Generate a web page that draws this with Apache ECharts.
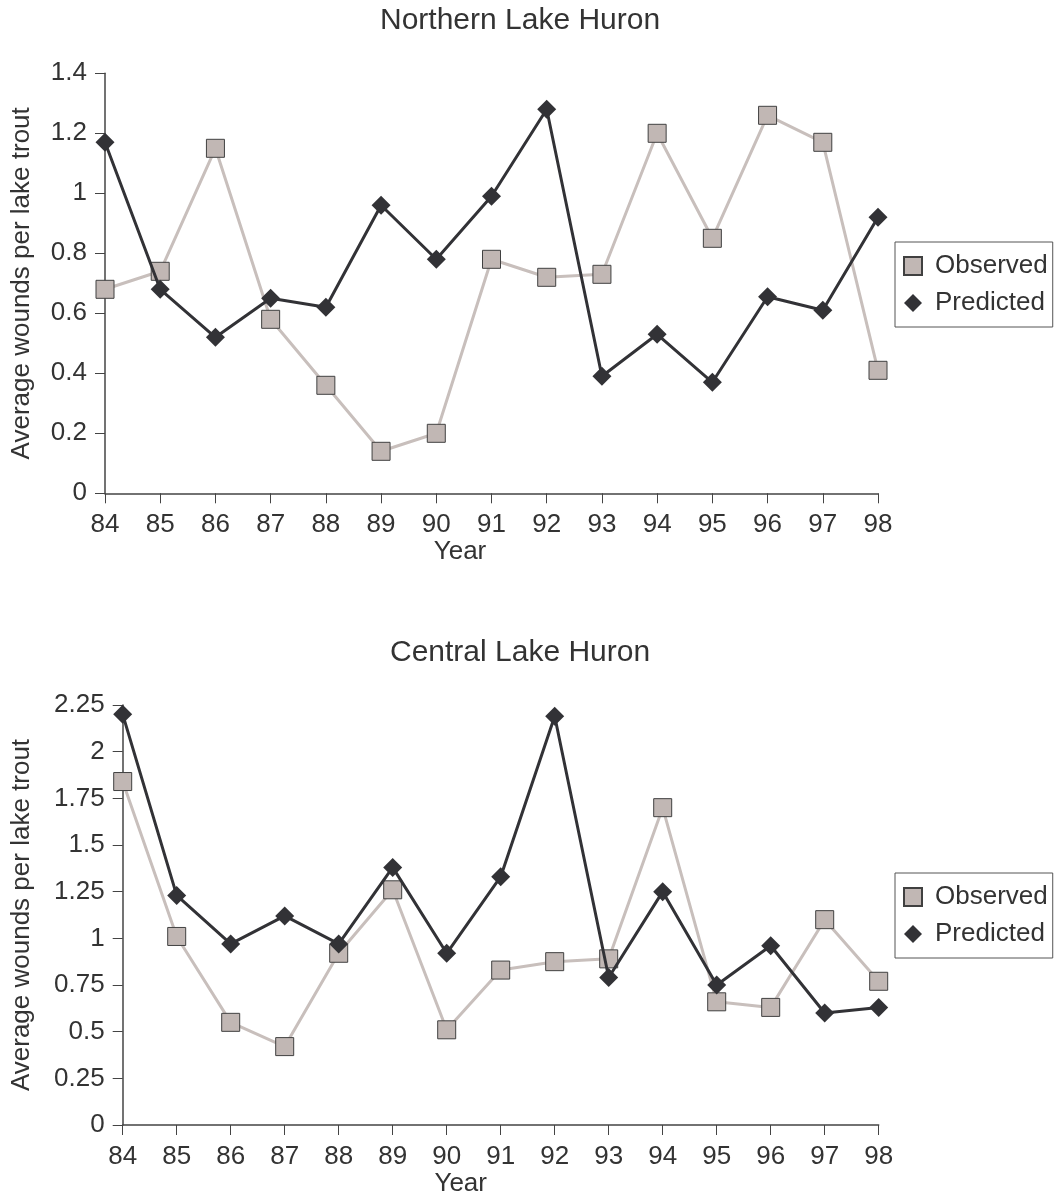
<!DOCTYPE html>
<html>
<head>
<meta charset="utf-8">
<script src="https://cdn.jsdelivr.net/npm/echarts@6/dist/echarts.min.js"></script>
<style>
html,body{margin:0;padding:0;background:#fff;}
#chart{width:1056px;height:1201px;}
</style>
</head>
<body>
<div id="chart"></div>
<script>
var years = ['84','85','86','87','88','89','90','91','92','93','94','95','96','97','98'];
var northObserved = [0.68,0.74,1.15,0.58,0.36,0.14,0.20,0.78,0.72,0.73,1.20,0.85,1.26,1.17,0.41];
var northPredicted = [1.17,0.68,0.52,0.65,0.62,0.96,0.78,0.99,1.28,0.39,0.53,0.37,0.655,0.61,0.92];
var centralObserved = [1.84,1.01,0.55,0.42,0.92,1.26,0.51,0.83,0.875,0.89,1.70,0.66,0.63,1.10,0.77];
var centralPredicted = [2.20,1.23,0.97,1.12,0.97,1.38,0.92,1.33,2.19,0.79,1.25,0.75,0.96,0.60,0.63];
var northTitle = 'Northern Lake Huron';
var centralTitle = 'Central Lake Huron';
var yName = 'Average wounds per lake trout';
var xName = 'Year';

var FONT = '"Liberation Sans", Arial, Helvetica, sans-serif';
var TXT = '#333333';
var AX = '#444444';
var OBS_LINE = '#c8bfbc';
var OBS_FILL = '#c1b7b4';
var PRED = '#323236';
var FS = 26;

function xAxis(gridIndex, shift) {
  return {
    type: 'category', gridIndex: gridIndex, data: years, boundaryGap: false,
    name: xName, nameLocation: 'middle', nameGap: 46,
    nameTextStyle: {fontFamily: FONT, fontSize: FS, color: TXT, padding: [0, shift, 0, 0]},
    axisLine: {show: true, lineStyle: {color: AX, width: 1.5}},
    axisTick: {show: true, length: 10, lineStyle: {color: AX, width: 1}},
    axisLabel: {fontFamily: FONT, fontSize: FS, color: TXT, margin: 19},
    splitLine: {show: false}
  };
}
function yAxis(gridIndex, max, interval, gap) {
  return {
    type: 'value', gridIndex: gridIndex, min: 0, max: max, interval: interval,
    name: yName, nameLocation: 'middle', nameRotate: 90, nameGap: gap,
    nameTextStyle: {fontFamily: FONT, fontSize: FS, color: TXT},
    axisLine: {show: true, lineStyle: {color: AX, width: 1.5}},
    axisTick: {show: true, length: 10, lineStyle: {color: AX, width: 1}},
    axisLabel: {fontFamily: FONT, fontSize: FS, color: TXT, margin: 18},
    splitLine: {show: false}
  };
}
function obsSeries(i, data) {
  return {
    name: 'Observed', type: 'line', xAxisIndex: i, yAxisIndex: i, data: data,
    symbol: 'rect', symbolSize: 18, z: 2,
    lineStyle: {color: OBS_LINE, width: 3},
    itemStyle: {color: OBS_FILL, borderColor: '#404040', borderWidth: 1},
    emphasis: {disabled: true}, animation: false
  };
}
function predSeries(i, data) {
  return {
    name: 'Predicted', type: 'line', xAxisIndex: i, yAxisIndex: i, data: data,
    symbol: 'diamond', symbolSize: 19, z: 3,
    lineStyle: {color: PRED, width: 3},
    itemStyle: {color: PRED, borderColor: PRED, borderWidth: 0},
    emphasis: {disabled: true}, animation: false
  };
}
function legend(top) {
  return {
    orient: 'vertical', left: 895, top: top,
    padding: [11, 5, 11, 8], itemGap: 11, itemWidth: 18, itemHeight: 18,
    borderColor: '#555', borderWidth: 1, backgroundColor: '#fff',
    textStyle: {fontFamily: FONT, fontSize: FS, color: TXT, padding: [0, 0, 0, 8]},
    data: [{name: 'Observed', icon: 'rect'}, {name: 'Predicted', icon: 'diamond'}],
    selectedMode: false
  };
}

var chart = echarts.init(document.getElementById('chart'), null, {renderer: 'canvas'});
chart.setOption({
  backgroundColor: '#ffffff',
  animation: false,
  title: [
    {text: northTitle, left: 380, top: 6, padding: 0, textStyle: {fontFamily: FONT, fontSize: 30, fontWeight: 'normal', color: TXT}},
    {text: centralTitle, left: 390, top: 638, padding: 0, textStyle: {fontFamily: FONT, fontSize: 30, fontWeight: 'normal', color: TXT}}
  ],
  grid: [
    {left: 105, top: 73.3, width: 773, height: 420, containLabel: false},
    {left: 122.7, top: 705, width: 756, height: 420, containLabel: false}
  ],
  legend: [legend(242), legend(873)],
  xAxis: [xAxis(0, 63), xAxis(1, 80)],
  yAxis: [yAxis(0, 1.4, 0.2, 70), yAxis(1, 2.25, 0.25, 88)],
  series: [
    obsSeries(0, northObserved), predSeries(0, northPredicted),
    obsSeries(1, centralObserved), predSeries(1, centralPredicted)
  ]
});
</script>
</body>
</html>
